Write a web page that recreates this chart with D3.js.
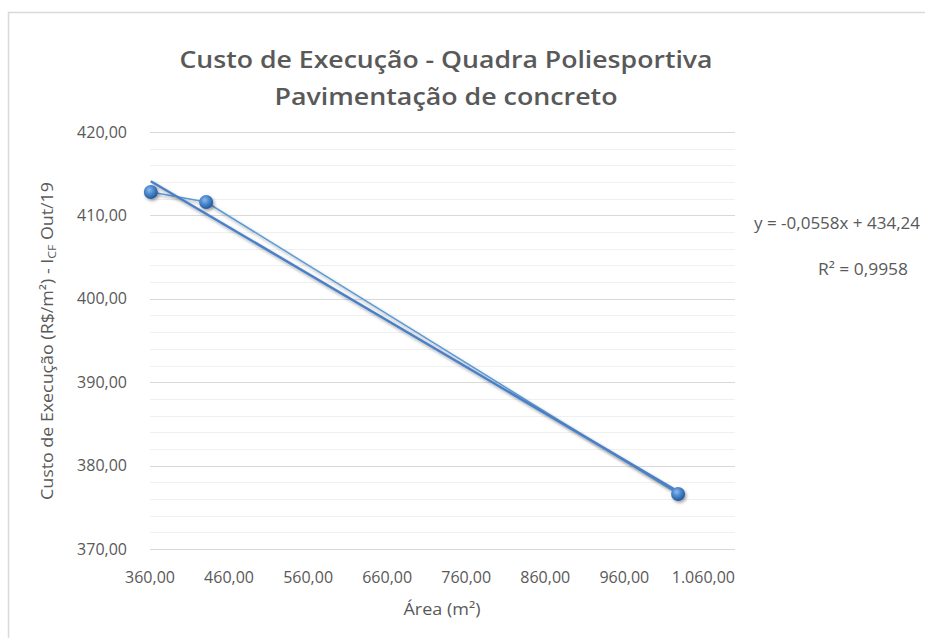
<!DOCTYPE html>
<html>
<head>
<meta charset="utf-8">
<script src="https://cdn.jsdelivr.net/npm/d3@7"></script>
<style>
  body { margin: 0; background: #fff; }
  text { font-family: "Open Sans", "Noto Sans", sans-serif; fill: #595959; }
</style>
</head>
<body>
<script>
const width = 925;
const height = 638;

// Chart data
const areas = [361, 431, 1028];
const costs = [412.8, 411.6, 376.6];
const xTicks = [360, 460, 560, 660, 760, 860, 960, 1060];
const yMajorTicks = [370, 380, 390, 400, 410, 420];
const yMinorTicks = d3.range(370, 421, 2);
const trend = { slope: -0.0558, intercept: 434.24 };
const titleLines = ["Custo de Execução - Quadra Poliesportiva", "Pavimentação de concreto"];
const equationText = "y = -0,0558x + 434,24";
const r2Text = "R² = 0,9958";

// Number format with comma decimals and dot thousands
const locale = d3.formatLocale({ decimal: ",", thousands: ".", grouping: [3], currency: ["R$", ""] });
const fmt = locale.format(",.2f");

const margin = { left: 150, right: 190, top: 132, bottom: 89 };

const x = d3.scaleLinear().domain([360, 1100]).range([margin.left, width - margin.right]);
const y = d3.scaleLinear().domain([370, 420]).range([height - margin.bottom, margin.top]);

const svg = d3.select("body").append("svg")
  .attr("width", width)
  .attr("height", height);

const defs = svg.append("defs");

// Marker gradient and shadow
const grad = defs.append("radialGradient")
  .attr("id", "ball")
  .attr("cx", "40%").attr("cy", "35%").attr("r", "65%");
grad.append("stop").attr("offset", "0%").attr("stop-color", "#8fbbe8");
grad.append("stop").attr("offset", "45%").attr("stop-color", "#4d8ad0");
grad.append("stop").attr("offset", "100%").attr("stop-color", "#24579a");

const shadow = defs.append("filter").attr("id", "shadow")
  .attr("x", "-50%").attr("y", "-50%").attr("width", "200%").attr("height", "200%");
shadow.append("feDropShadow")
  .attr("dx", 1.5).attr("dy", 2).attr("stdDeviation", 1.5)
  .attr("flood-color", "#000").attr("flood-opacity", 0.35);

// Chart border
svg.append("rect")
  .attr("x", 8.5).attr("y", 12.5)
  .attr("width", width + 20).attr("height", height + 20)
  .attr("fill", "#fff")
  .attr("stroke", "#d9d9d9")
  .attr("stroke-width", 1.5);

// Minor gridlines
svg.append("g")
  .selectAll("line")
  .data(yMinorTicks.filter(d => d % 10 !== 0))
  .join("line")
    .attr("x1", x.range()[0]).attr("x2", x.range()[1])
    .attr("y1", d => Math.round(y(d)) + 0.5).attr("y2", d => Math.round(y(d)) + 0.5)
    .attr("stroke", "#f0f0f0");

// Major gridlines
svg.append("g")
  .selectAll("line")
  .data(yMajorTicks)
  .join("line")
    .attr("x1", x.range()[0]).attr("x2", x.range()[1])
    .attr("y1", d => Math.round(y(d)) + 0.5).attr("y2", d => Math.round(y(d)) + 0.5)
    .attr("stroke", "#d9d9d9");

// Y axis labels
svg.append("g")
  .selectAll("text")
  .data(yMajorTicks)
  .join("text")
    .attr("x", 127)
    .attr("y", d => y(d))
    .attr("dy", "0.35em")
    .attr("text-anchor", "end")
    .attr("font-size", 16)
    .text(d => fmt(d));

// X axis labels
svg.append("g")
  .selectAll("text")
  .data(xTicks)
  .join("text")
    .attr("x", d => x(d))
    .attr("y", 577)
    .attr("dy", "0.35em")
    .attr("text-anchor", "middle")
    .attr("font-size", 16)
    .text(d => fmt(d));

// Axis titles
svg.append("text")
  .attr("x", 442).attr("y", 609)
  .attr("dy", "0.35em")
  .attr("text-anchor", "middle")
  .attr("font-size", 16)
  .attr("textLength", 77)
  .attr("lengthAdjust", "spacingAndGlyphs")
  .text("Área (m²)");

const yTitle = svg.append("text")
  .attr("transform", "translate(47,341) rotate(-90)")
  .attr("dy", "0.35em")
  .attr("text-anchor", "middle")
  .attr("font-size", 16)
  .attr("textLength", 318)
  .attr("lengthAdjust", "spacingAndGlyphs");
yTitle.append("tspan").text("Custo de Execução (R$/m²) - I");
yTitle.append("tspan").attr("font-size", 11).attr("dy", 3).text("CF");
yTitle.append("tspan").attr("dy", -3).text(" Out/19");

// Title
const titleWidths = [533, 343];
svg.append("g")
  .selectAll("text")
  .data(titleLines)
  .join("text")
    .attr("x", 446)
    .attr("y", (d, i) => 60 + i * 37)
    .attr("dy", "0.35em")
    .attr("text-anchor", "middle")
    .attr("font-size", 24)
    .attr("font-weight", 600)
    .attr("textLength", (d, i) => titleWidths[i])
    .attr("lengthAdjust", "spacingAndGlyphs")
    .text(d => d);

// Series line
const points = areas.map((a, i) => [a, costs[i]]);
const line = d3.line().x(d => x(d[0])).y(d => y(d[1]));

svg.append("path")
  .datum(points)
  .attr("d", line)
  .attr("fill", "none")
  .attr("stroke", "#5b9bd5")
  .attr("stroke-width", 1.5)
  .attr("filter", "url(#shadow)");

// Linear trendline over data range
const xExt = d3.extent(areas);
const trendPts = xExt.map(a => [a, trend.slope * a + trend.intercept]);
svg.append("path")
  .datum(trendPts)
  .attr("d", line)
  .attr("fill", "none")
  .attr("stroke", "#4a80c8")
  .attr("stroke-width", 2.5)
  .attr("filter", "url(#shadow)");

// Markers
svg.append("g")
  .selectAll("circle")
  .data(points)
  .join("circle")
    .attr("cx", d => x(d[0]))
    .attr("cy", d => y(d[1]))
    .attr("r", 7)
    .attr("fill", "url(#ball)")
    .attr("filter", "url(#shadow)");

// Trendline equation and R²
svg.append("text")
  .attr("x", 754).attr("y", 223)
  .attr("dy", "0.35em")
  .attr("font-size", 16)
  .attr("textLength", 166)
  .attr("lengthAdjust", "spacingAndGlyphs")
  .text(equationText);

svg.append("text")
  .attr("x", 863).attr("y", 269)
  .attr("dy", "0.35em")
  .attr("text-anchor", "middle")
  .attr("font-size", 16)
  .attr("textLength", 90)
  .attr("lengthAdjust", "spacingAndGlyphs")
  .text(r2Text);
</script>
</body>
</html>
